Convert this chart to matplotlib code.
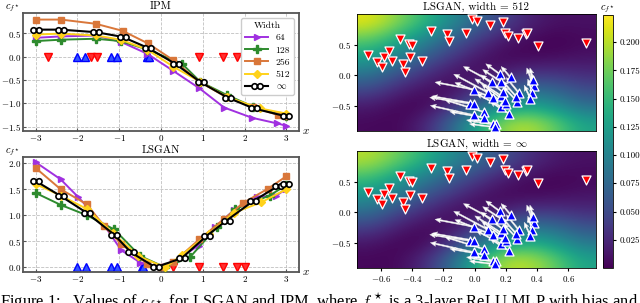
import numpy as np
import matplotlib
matplotlib.use('Agg')
from matplotlib import pyplot as plt
from matplotlib.path import Path
from matplotlib.ticker import FormatStrFormatter

plt.rcParams['font.family'] = 'cmr10'
plt.rcParams['mathtext.fontset'] = 'cm'
plt.rcParams['axes.formatter.use_mathtext'] = True
plt.rcParams['font.size'] = 7

# ---------------- 1D curves: IPM ----------------
ipm_x64 = [-3.0, -2.4, -1.56, -0.95, -0.33, 0.3, 0.92, 1.51, 2.18, 2.78, 3.0]
ipm_y64 = [0.40, 0.43, 0.45, 0.31, 0.06, -0.31, -0.68, -1.09, -1.31, -1.43, -1.48]
ipm_x128 = [-3.0, -2.4, -1.56, -0.96, -0.33, 0.5, 0.94, 1.57, 2.2, 3.0]
ipm_y128 = [0.33, 0.36, 0.38, 0.33, 0.15, -0.15, -0.54, -0.82, -1.07, -1.27]
ipm_x256 = [-3.0, -2.39, -1.56, -0.92, -0.31, 0.3, 0.92, 1.55, 2.2, 2.8, 3.0]
ipm_y256 = [0.79, 0.79, 0.70, 0.55, 0.28, -0.08, -0.54, -0.86, -1.08, -1.25, -1.28]
ipm_x512 = [-3.0, -2.4, -1.56, -0.96, -0.33, 0.3, 0.94, 1.57, 2.37, 3.0]
ipm_y512 = [0.47, 0.49, 0.45, 0.36, 0.15, -0.22, -0.54, -0.86, -1.11, -1.22]
ipm_xinf = [-3.0, -2.4, -1.55, -0.92, -0.3, 0.35, 0.95, 1.6, 2.22, 3.0]
ipm_yinf = [0.575, 0.575, 0.52, 0.42, 0.18, -0.16, -0.55, -0.88, -1.11, -1.28]

# ---------------- 1D curves: LSGAN ----------------
ls_x64 = [-3.0, -2.4, -1.98, -1.35, -0.95, -0.49, -0.09, 0.3, 0.9, 1.3, 1.75, 2.3, 2.75, 3.0]
ls_y64 = [2.02, 1.69, 1.35, 0.80, 0.33, 0.09, 0.03, 0.10, 0.42, 0.78, 1.10, 1.36, 1.37, 1.51]
ls_x128 = [-3.0, -2.4, -1.77, -1.12, -0.5, 0.1, 0.7, 1.33, 1.77, 2.6, 3.0]
ls_y128 = [1.43, 1.20, 1.00, 0.73, 0.22, 0.0, 0.20, 0.77, 1.12, 1.38, 1.58]
ls_x256 = [-3.0, -2.4, -1.77, -1.36, -0.95, -0.33, 0.0, 0.3, 0.92, 1.51, 1.97, 2.56, 3.0]
ls_y256 = [1.91, 1.50, 1.21, 0.79, 0.45, 0.07, 0.0, 0.10, 0.54, 0.93, 1.24, 1.51, 1.75]
ls_x512 = [-3.0, -2.4, -1.77, -1.15, -0.55, 0.1, 0.5, 1.14, 1.75, 2.4, 3.0]
ls_y512 = [1.60, 1.38, 1.12, 0.66, 0.22, 0.0, 0.24, 0.64, 1.05, 1.25, 1.50]
ls_xinf = [-3.0, -2.4, -1.78, -1.12, -0.72, -0.13, 0.5, 1.1, 1.57, 2.2, 2.8, 3.0]
ls_yinf = [1.66, 1.37, 1.05, 0.63, 0.29, 0.0, 0.18, 0.61, 0.90, 1.27, 1.56, 1.60]

# sample points on the x axis
ipm_blue = [-2.02, -1.82, -1.2, -1.04, -0.34, -0.29]
ipm_red = [-2.7, -1.68, -1.52, 0.9, 1.49, 1.83, 2.0]
ls_blue = [-2.0, -1.8, -1.2, -1.04, -0.46, -0.42]
ls_red = [0.3, 0.9, 1.49, 1.83, 2.0]

widths = ['64', '128', '256', '512', r'$\infty$']
colors = ['#a030e0', '#2e8b2e', '#d9773a', '#ffd21a', 'black']

# ---------------- 2D panels ----------------
red_x = [-0.679, -0.621, -0.589, -0.577, -0.547, -0.526, -0.477, -0.460, -0.445, -0.417,
         -0.413, -0.402, -0.338, -0.281, -0.179, -0.162, -0.055, -0.013, 0.013, 0.102,
         0.183, 0.194, 0.215, 0.279, 0.328, 0.336, 0.406, 0.709]
red_y = [0.328, 0.219, 0.137, 0.301, 0.399, 0.235, 0.590, 0.175, 0.055, 0.503,
         0.290, 0.492, 0.235, 0.727, 0.672, 0.563, 0.683, 0.913, 0.891, 0.820,
         0.874, 0.694, 0.639, 0.601, 0.667, 0.683, 0.481, 0.530]
blue_x = [-0.002, -0.026, -0.004, -0.002, 0.060, 0.062, 0.087, 0.109, 0.115, 0.119,
          0.136, 0.128, 0.162, 0.172, 0.172, 0.172, 0.198, 0.219, 0.230, 0.194,
          0.283, 0.274, 0.268, 0.364, 0.381, 0.374, 0.370, 0.357, 0.179]
blue_y = [-0.235, -0.464, -0.464, -0.656, -0.601, -0.694, -0.284, -0.109, -0.372, -0.803,
          -0.803, -0.847, 0.016, -0.109, -0.339, -0.519, -0.475, -0.628, -0.038, -0.421,
          -0.290, -0.437, -0.355, -0.082, -0.180, -0.082, -0.284, -0.383, -0.273]
arrow_u = [-0.25, -0.26, -0.27, -0.28, -0.25, -0.22, -0.22, -0.18, -0.24, -0.17,
           -0.15, -0.16, -0.09, -0.12, -0.17, -0.16, -0.14, -0.12, -0.06, -0.15,
           -0.08, -0.09, -0.09, -0.03, -0.02, -0.02, -0.03, -0.04, -0.14]
arrow_v = [0.12, 0.10, 0.12, 0.16, 0.20, 0.10, 0.30, 0.25, 0.25, 0.07,
           0.09, 0.05, 0.17, 0.20, 0.28, 0.22, 0.25, 0.20, 0.18, 0.28,
           0.25, 0.25, 0.26, 0.20, 0.22, 0.20, 0.22, 0.22, 0.28]

# coarse c_f* grid (rows top -> bottom)
field_512 = [
    [0.215, 0.185, 0.150, 0.110, 0.075, 0.045, 0.020, 0.010, 0.010],
    [0.170, 0.140, 0.105, 0.070, 0.040, 0.015, 0.005, 0.000, 0.005],
    [0.130, 0.100, 0.070, 0.040, 0.015, 0.003, 0.002, 0.005, 0.010],
    [0.090, 0.060, 0.035, 0.012, 0.005, 0.015, 0.030, 0.030, 0.025],
    [0.050, 0.025, 0.008, 0.005, 0.030, 0.060, 0.080, 0.070, 0.050],
    [0.015, 0.003, 0.002, 0.025, 0.070, 0.110, 0.130, 0.110, 0.080],
    [0.005, 0.003, 0.020, 0.070, 0.130, 0.190, 0.200, 0.170, 0.130],
]
field_inf = [
    [0.200, 0.175, 0.145, 0.110, 0.080, 0.055, 0.030, 0.015, 0.010],
    [0.160, 0.130, 0.100, 0.070, 0.045, 0.020, 0.008, 0.003, 0.005],
    [0.120, 0.095, 0.065, 0.040, 0.015, 0.004, 0.002, 0.004, 0.010],
    [0.085, 0.055, 0.030, 0.010, 0.004, 0.015, 0.030, 0.030, 0.025],
    [0.045, 0.020, 0.005, 0.006, 0.035, 0.065, 0.085, 0.075, 0.055],
    [0.012, 0.002, 0.003, 0.030, 0.080, 0.120, 0.140, 0.120, 0.090],
    [0.004, 0.004, 0.025, 0.075, 0.140, 0.200, 0.200, 0.170, 0.130],
]
cbar_ticks = [0.025, 0.05, 0.075, 0.1, 0.125, 0.15, 0.175, 0.2]

# two-circle marker for width = inf
circ = Path.unit_circle()
oo = Path.make_compound_path(Path(circ.vertices + [-1.0, 0], circ.codes),
                             Path(circ.vertices + [1.0, 0], circ.codes))
markers = ['>', 'P', 's', 'D', oo]
msizes = [5, 5.5, 5, 4.5, 8]

fig = plt.figure(figsize=(6.4, 3.03), dpi=100)
ax1 = fig.add_axes([0.036, 0.568, 0.431, 0.389])
ax2 = fig.add_axes([0.036, 0.102, 0.431, 0.380])
ax3 = fig.add_axes([0.558, 0.568, 0.373, 0.386])
ax4 = fig.add_axes([0.558, 0.1155, 0.373, 0.386])
cax = fig.add_axes([0.942, 0.1155, 0.016, 0.835])


def style_left(ax, title):
    ax.set_xlim(-3.3, 3.3)
    ax.set_xticks([-3, -2, -1, 0, 1, 2, 3])
    ax.grid(True, ls='--', color='#c0c0c0', lw=0.6)
    ax.set_axisbelow(True)
    for s in ax.spines.values():
        s.set_color('#555555')
        s.set_linewidth(1.3)
    ax.tick_params(direction='in', length=2, color='#555555', pad=1.5, labelsize=6.5)
    ax.set_title(title, fontsize=8, pad=3)
    ax.text(-0.01, 0.995, r'$c_{f^\star}$', transform=ax.transAxes, ha='right', va='bottom', fontsize=7.5)
    ax.text(1.012, 0.0, r'$x$', transform=ax.transAxes, ha='left', va='center', fontsize=8)


ipm_series = [(ipm_x64, ipm_y64), (ipm_x128, ipm_y128), (ipm_x256, ipm_y256),
              (ipm_x512, ipm_y512), (ipm_xinf, ipm_yinf)]
ls_series = [(ls_x64, ls_y64), (ls_x128, ls_y128), (ls_x256, ls_y256),
             (ls_x512, ls_y512), (ls_xinf, ls_yinf)]

for ax, series, blue, red in [(ax1, ipm_series, ipm_blue, ipm_red), (ax2, ls_series, ls_blue, ls_red)]:
    ax.plot(blue, np.zeros(len(blue)), '^', color='#3355ff', mec='blue', ms=5.5, zorder=2)
    ax.plot(red, np.zeros(len(red)), 'v', color='#ff3030', mec='red', ms=5.5, zorder=2)
    for i, (xs, ys) in enumerate(series):
        if i == 4:
            ax.plot(xs, ys, color='black', marker=oo, ms=msizes[i], mfc='white', mec='black',
                    mew=1.2, lw=1.5, label=widths[i], zorder=3 + i)
        else:
            ax.plot(xs, ys, color=colors[i], marker=markers[i], ms=msizes[i], lw=1.4,
                    label=widths[i], zorder=3 + i)

style_left(ax1, 'IPM')
ax1.set_ylim(-1.59, 0.93)
ax1.set_yticks([-1.5, -1.0, -0.5, 0.0, 0.5])
leg = ax1.legend(title='Width', loc='upper right', fontsize=7, title_fontsize=7,
                 handlelength=2.3, borderpad=0.4, labelspacing=0.35, framealpha=1)
style_left(ax2, 'LSGAN')
ax2.set_ylim(-0.09, 2.12)
ax2.set_yticks([0.0, 0.5, 1.0, 1.5, 2.0])

ext = [-0.75, 0.775, -0.91, 1.0]
for ax, field, title in [(ax3, field_512, 'LSGAN, width = 512'), (ax4, field_inf, r'LSGAN, width = $\infty$')]:
    im = ax.imshow(np.array(field), extent=ext, origin='upper', aspect='auto', cmap='viridis',
                   vmin=0, vmax=0.224, interpolation='bicubic')
    ax.quiver(blue_x, blue_y, arrow_u, arrow_v, angles='xy', scale_units='xy', scale=1,
              color='white', width=0.006, headwidth=3.5, headlength=4, headaxislength=3.5,
              edgecolor='#dddddd', linewidth=0.3, zorder=2)
    ax.scatter(red_x, red_y, marker='v', s=42, c='red', edgecolors='white', linewidths=0.9, zorder=3)
    ax.scatter(blue_x, blue_y, marker='^', s=42, c='blue', edgecolors='white', linewidths=0.9, zorder=3)
    ax.set_xlim(ext[0], ext[1])
    ax.set_ylim(ext[2], ext[3])
    ax.set_yticks([-0.5, 0.0, 0.5])
    ax.set_xticks([-0.6, -0.4, -0.2, 0.0, 0.2, 0.4, 0.6])
    ax.tick_params(labelsize=6.5, length=2.5, pad=2)
    ax.set_title(title, fontsize=8, pad=3)
    for s in ax.spines.values():
        s.set_linewidth(0.6)
ax3.tick_params(labelbottom=False, bottom=False)

cb = fig.colorbar(im, cax=cax, ticks=cbar_ticks)
cb.ax.yaxis.set_major_formatter(FormatStrFormatter('%.3f'))
cb.ax.tick_params(labelsize=6.5, length=2.5, pad=2)
cb.outline.set_linewidth(0.6)
cax.set_title(r'$c_{f^\star}$', fontsize=7.5, pad=3)

fig.text(0.0, -0.012, r'Figure 1:   Values of $c_{f^\star}$ for LSGAN and IPM, where $f^\star$ is a 3-layer ReLU MLP with bias and',
         family='Liberation Serif', fontsize=11.9, va='baseline', ha='left')

fig.savefig('out.png', dpi=100)
